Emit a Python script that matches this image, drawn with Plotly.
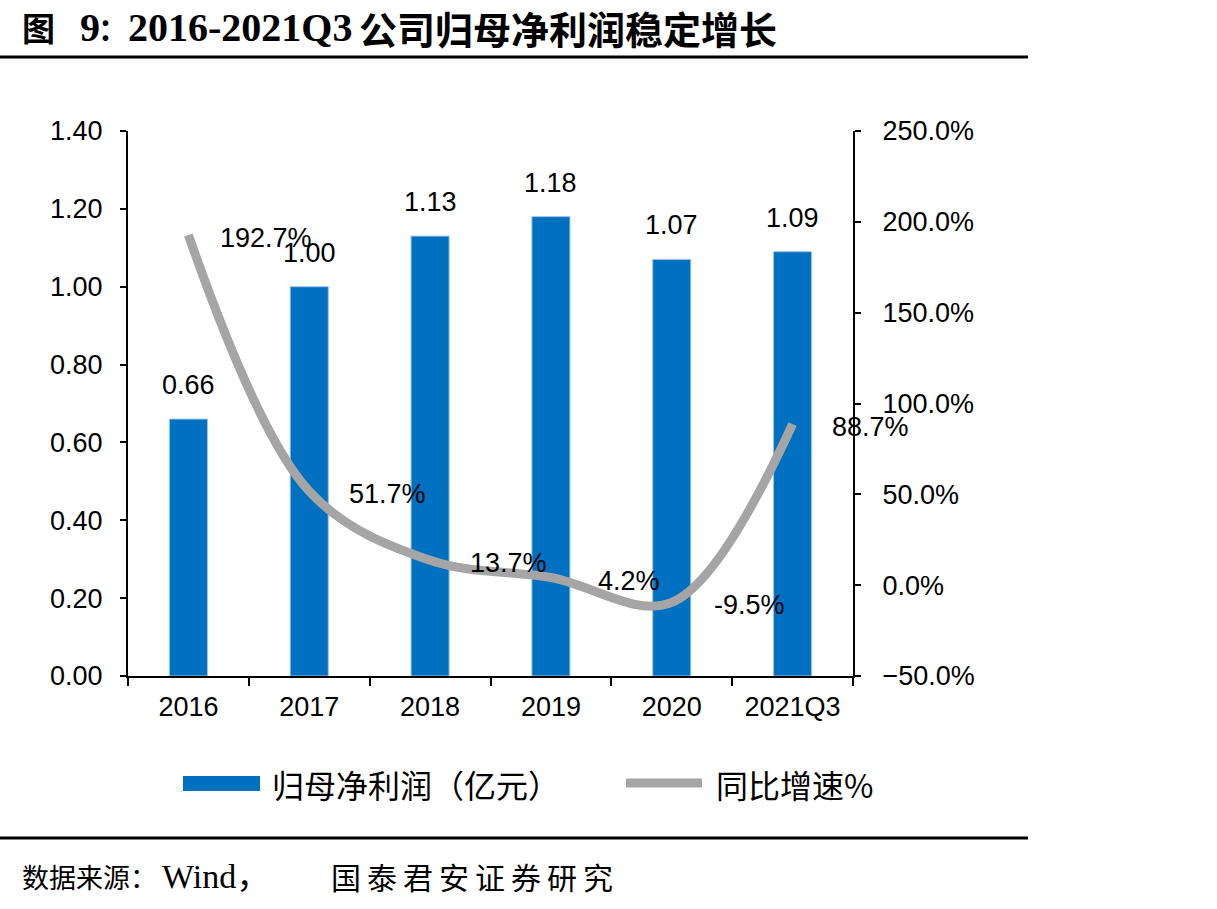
import plotly.graph_objects as go

categories = ["2016", "2017", "2018", "2019", "2020", "2021Q3"]
profit = [0.66, 1.00, 1.13, 1.18, 1.07, 1.09]
growth = [192.7, 51.7, 13.7, 4.2, -9.5, 88.7]
profit_labels = ["0.66", "1.00", "1.13", "1.18", "1.07", "1.09"]
growth_labels = ["192.7%", "51.7%", "13.7%", "4.2%", "-9.5%", "88.7%"]

BLUE = "#0070C0"
GRAY = "#A5A5A5"
NUMFONT = "Liberation Sans, Arial, sans-serif"
SERIF = "Liberation Serif, Noto Sans CJK SC, serif"
CJK = "Noto Sans CJK SC, sans-serif"

# plot area in pixels
L, R, T, B = 128, 853, 131, 676
W, H = 1217, 909
def px(x):
    return (x - L) / (R - L)
def py(y):
    return (B - y) / (B - T)

fig = go.Figure()
fig.add_trace(go.Bar(
    x=categories, y=profit, width=0.315,
    marker=dict(color=BLUE, line=dict(color="#9DC3E6", width=1)),
    showlegend=False, yaxis="y", hoverinfo="skip",
))
fig.add_trace(go.Scatter(
    x=categories, y=growth, yaxis="y2", mode="lines",
    line=dict(color=GRAY, width=9, shape="spline", smoothing=1.0),
    showlegend=False, hoverinfo="skip",
))

annotations = []
for i, (v, t) in enumerate(zip(profit, profit_labels)):
    annotations.append(dict(x=i, y=v, xref="x", yref="y", text=t, showarrow=False,
                            yshift=34, font=dict(family=NUMFONT, size=27, color="black")))
for i, (v, t) in enumerate(zip(growth, growth_labels)):
    annotations.append(dict(x=i, y=v, xref="x", yref="y2", text=t, showarrow=False,
                            xshift=78, yshift=-3, font=dict(family=NUMFONT, size=27, color="black")))

def txt(x, y, text, family, size, bold=False):
    if bold:
        text = "<b>" + text + "</b>"
    annotations.append(dict(x=px(x), y=py(y), xref="paper", yref="paper", xanchor="left",
                            yanchor="middle", text=text, showarrow=False,
                            font=dict(family=family, size=size, color="black")))

# title
txt(20, 27, "图", CJK, 33, bold=True)
txt(78, 27, "9", SERIF, 40, bold=True)
txt(96, 27, "：", CJK, 30, bold=True)
txt(126, 27, "2016-2021Q3", SERIF, 40, bold=True)
txt(357, 27, "公司归母净利润稳定增长", CJK, 38, bold=True)
# legend text
txt(270, 784, "归母净利润（亿元）", CJK, 32)
txt(714, 784, "同比增速%", CJK, 32)
# source
txt(20, 876, "数据来源：", CJK, 27)
txt(160, 876, "Wind，", SERIF, 34)
txt(329, 876, "\u2009".join("国泰君安证券研究"), CJK, 30)

shapes = [
    dict(type="line", xref="paper", yref="paper", x0=px(0), x1=px(1028), y0=py(57), y1=py(57),
         line=dict(color="black", width=3)),
    dict(type="line", xref="paper", yref="paper", x0=px(0), x1=px(1028), y0=py(838), y1=py(838),
         line=dict(color="black", width=3)),
    dict(type="rect", xref="paper", yref="paper", x0=px(183), x1=px(260), y0=py(776), y1=py(791),
         fillcolor=BLUE, line=dict(width=0)),
    dict(type="line", xref="paper", yref="paper", x0=px(626), x1=px(702), y0=py(783), y1=py(783),
         line=dict(color=GRAY, width=9)),
]

fig.update_layout(
    width=W, height=H,
    margin=dict(l=L, r=W - R, t=T, b=H - B, pad=0),
    paper_bgcolor="white", plot_bgcolor="white",
    showlegend=False,
    annotations=annotations, shapes=shapes,
    xaxis=dict(type="category", tickson="boundaries", ticks="outside", ticklen=8, tickwidth=2,
               tickcolor="black", showline=True, linecolor="black", linewidth=2,
               showgrid=False, tickfont=dict(family=NUMFONT, size=27, color="black"),
               ticklabelstandoff=6, range=[-0.5, 5.5]),
    yaxis=dict(range=[0, 1.4], dtick=0.2, tickformat=".2f", ticks="outside", ticklen=6, tickwidth=2,
               tickcolor="black", showline=True, linecolor="black", linewidth=2, showgrid=False,
               zeroline=False, tickfont=dict(family=NUMFONT, size=27, color="black"),
               ticklabelstandoff=12),
    yaxis2=dict(range=[-50, 250], dtick=50, tickformat=".1f", ticksuffix="%", overlaying="y", side="right",
                ticks="outside", ticklen=6, tickwidth=2, tickcolor="black", showline=True,
                linecolor="black", linewidth=2, showgrid=False, zeroline=False,
                tickfont=dict(family=NUMFONT, size=27, color="black"), ticklabelstandoff=16),
)

fig.write_html("out.html")
